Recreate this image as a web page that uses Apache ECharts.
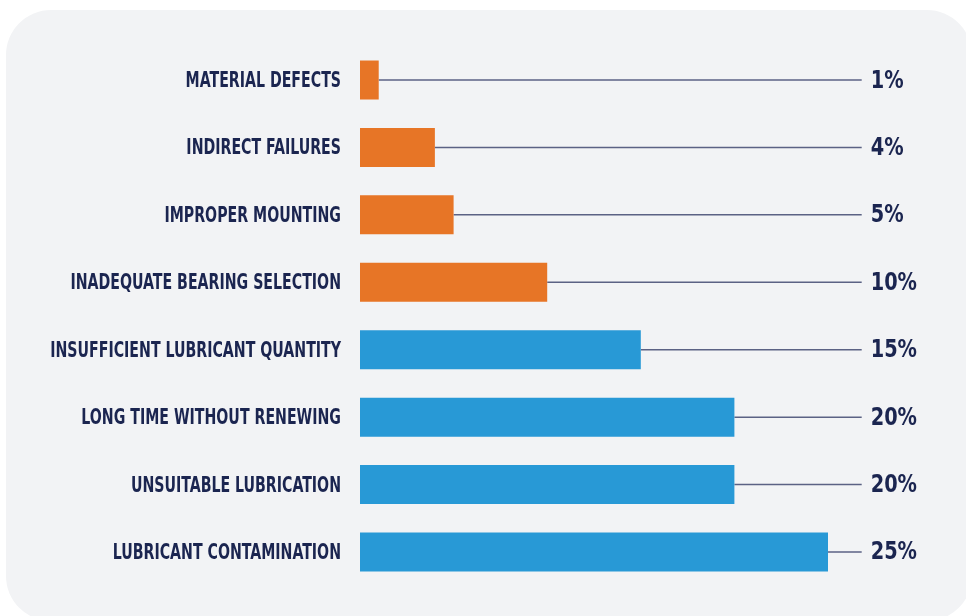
<!DOCTYPE html>
<html><head><meta charset="utf-8">
<script src="https://cdn.jsdelivr.net/npm/echarts@6/dist/echarts.min.js"></script>
<style>html,body{margin:0;padding:0;background:#ffffff;}#c{width:966px;height:616px;}</style>
</head><body><div id="c"></div>
<script>
const categories = ['MATERIAL DEFECTS','INDIRECT FAILURES','IMPROPER MOUNTING','INADEQUATE BEARING SELECTION','INSUFFICIENT LUBRICANT QUANTITY','LONG TIME WITHOUT RENEWING','UNSUITABLE LUBRICATION','LUBRICANT CONTAMINATION'];
const values = [1,4,5,10,15,20,20,25];
const groups = ['other','other','other','other','lube','lube','lube','lube'];
const valueLabels = ['1%','4%','5%','10%','15%','20%','20%','25%'];

const COLORS = {other:'#e77526', lube:'#2899d6'};
const TEXT = '#1b2550';
const LINE = '#5b6284';
const LINE_END = 26.8;
const FONT = "'DejaVu Sans Condensed','DejaVu Sans',sans-serif";

const chart = echarts.init(document.getElementById('c'), null, {renderer:'canvas'});
chart.setOption({
  animation:false,
  backgroundColor:'#ffffff',
  graphic:[{type:'rect', z:-10, shape:{x:6,y:10,width:966,height:611,r:45}, style:{fill:'#f2f3f5'}}],
  grid:{left:360, top:46.3, width:561.6, height:539.4, containLabel:false, outerBoundsMode:'none'},
  xAxis:{type:'value', min:0, max:30, show:false},
  yAxis:{type:'category', inverse:true, data:categories,
    axisLine:{show:false}, axisTick:{show:false}, axisLabel:{show:false}},
  series:[
    {type:'custom', z:1,
     data: values.map((v,i)=>[v,i]),
     renderItem:function(params, api){
       const v = api.value(0), i = api.value(1);
       const p0 = api.coord([v,i]);
       const p1 = api.coord([LINE_END,i]);
       const pz = api.coord([0,i]);
       return {type:'group', children:[
         {type:'line', shape:{x1:p0[0], y1:p0[1], x2:p1[0], y2:p1[1]}, style:{stroke:LINE, lineWidth:1.5}},
         {type:'text', x:p1[0]+9, y:p0[1]+1, scaleX:0.86,
          style:{x:0, y:0, text:valueLabels[i], fill:TEXT, fontFamily:FONT, fontWeight:'bold', fontSize:25, verticalAlign:'middle', align:'left'}},
         {type:'text', x:pz[0]-19, y:p0[1]+1.5, scaleX:0.75,
          style:{x:0, y:0, text:categories[i], fill:TEXT, fontFamily:FONT, fontWeight:'bold', fontSize:21, verticalAlign:'middle', align:'right'}}
       ]};
     }},
    {type:'bar', z:2, barWidth:39,
     data: values.map((v,i)=>({value:v, itemStyle:{color:COLORS[groups[i]]}}))}
  ]
});
</script></body></html>
